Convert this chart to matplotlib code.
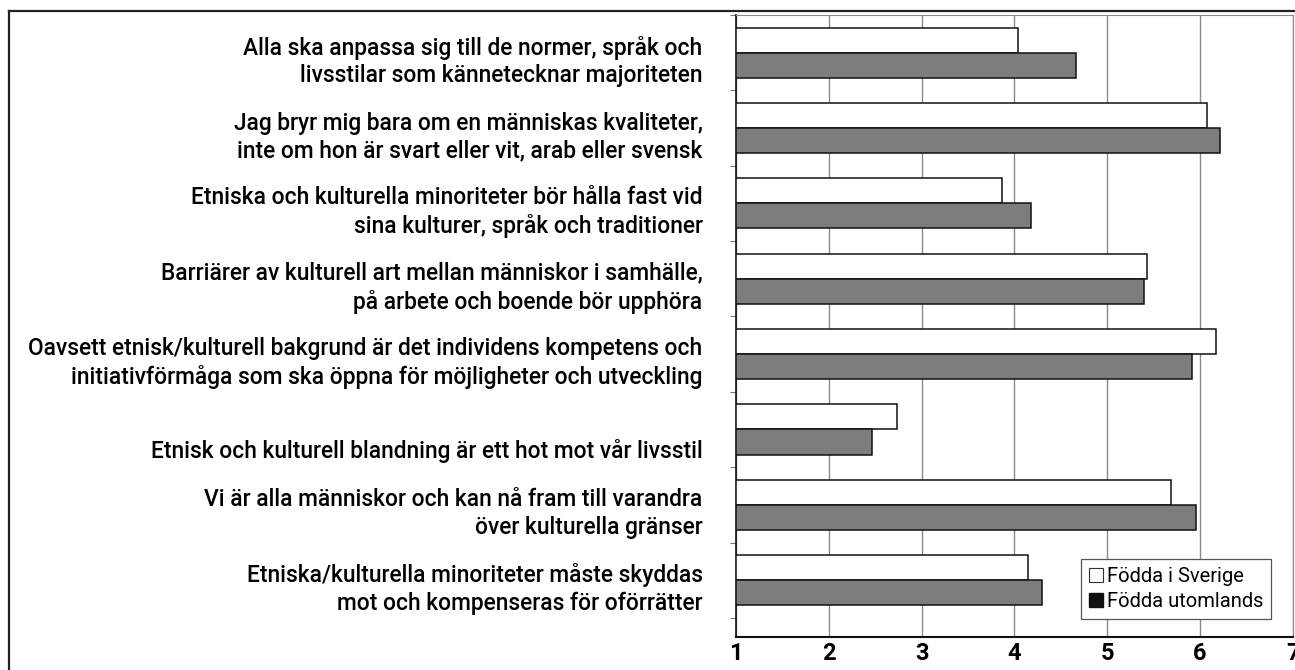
import numpy as np
import matplotlib.pyplot as plt
from matplotlib.patches import Patch
from matplotlib.lines import Line2D
from matplotlib.transforms import ScaledTranslation

plt.rcParams['font.family'] = ['Roboto', 'DejaVu Sans']

labels = [
    "Alla ska anpassa sig till de normer, språk och\nlivsstilar som kännetecknar majoriteten",
    "Jag bryr mig bara om en människas kvaliteter,\ninte om hon är svart eller vit, arab eller svensk",
    "Etniska och kulturella minoriteter bör hålla fast vid\nsina kulturer, språk och traditioner",
    "Barriärer av kulturell art mellan människor i samhälle,\npå arbete och boende bör upphöra",
    "Oavsett etnisk/kulturell bakgrund är det individens kompetens och\ninitiativförmåga som ska öppna för möjligheter och utveckling",
    "Etnisk och kulturell blandning är ett hot mot vår livsstil",
    "Vi är alla människor och kan nå fram till varandra\növer kulturella gränser",
    "Etniska/kulturella minoriteter måste skyddas\nmot och kompenseras för oförrätter",
]
sverige = [4.04, 6.08, 3.87, 5.43, 6.17, 2.74, 5.69, 4.15]
utomlands = [4.67, 6.22, 4.18, 5.40, 5.91, 2.47, 5.96, 4.30]
series_names = ["Födda i Sverige", "Födda utomlands"]
xticks = [1, 2, 3, 4, 5, 6, 7]

fig = plt.figure(figsize=(12.95, 6.7), dpi=100)
ax = fig.add_axes([0.5683, 0.0497, 0.4299, 0.9279])

y = np.arange(len(labels)) + 0.5
h = 0.333
dark = "#7d7d7d"
ax.barh(y - h / 2, np.array(sverige) - 1, height=h, left=1, color="white",
        edgecolor="#111111", linewidth=1.1, zorder=3)
ax.barh(y + h / 2, np.array(utomlands) - 1, height=h, left=1, color=dark,
        edgecolor="#111111", linewidth=1.1, zorder=3)

ax.set_xlim(1, 7)
ax.set_ylim(8.25, 0)
ax.set_xticks(xticks)
ax.set_xticklabels([str(t) for t in xticks], fontsize=17, fontweight="bold")
ax.tick_params(axis="x", length=0, pad=4)
ax.grid(axis="x", color="#8a8a8a", linewidth=1.0, zorder=0)

ax.set_yticks(y)
ax.set_yticklabels(labels, fontsize=16.4, fontweight="medium", linespacing=1.25)
ax.tick_params(axis="y", length=0, pad=24)
ax.set_yticks(np.arange(0, 9), minor=True)
ax.tick_params(axis="y", which="minor", length=4, color="#777777", width=0.8)

# labels sit a bit below the bar pair centre
for i, t in enumerate(ax.get_yticklabels()):
    dy = -4 if i != 5 else -19
    t.set_transform(t.get_transform() + ScaledTranslation(0, dy / 100, fig.dpi_scale_trans))

ax.spines["left"].set_color("#111111")
ax.spines["left"].set_linewidth(1.2)
ax.spines["bottom"].set_color("#111111")
ax.spines["bottom"].set_linewidth(1.5)
ax.spines["top"].set_color("#8a8a8a")
ax.spines["right"].set_color("#8a8a8a")

handles = [Patch(facecolor="white", edgecolor="#333333", linewidth=0.8),
           Patch(facecolor="#111111", edgecolor="#111111")]
leg = ax.legend(handles, series_names, loc="lower left", bbox_to_anchor=(0.619, 0.0285),
                fontsize=14.5, fancybox=False, framealpha=1, edgecolor="#555555",
                handlelength=0.7, handleheight=0.7, handletextpad=0.2,
                borderpad=0.4, labelspacing=0.3, borderaxespad=0)
leg.get_frame().set_linewidth(0.9)
leg.set_zorder(5)

# outer frame
fx = 9 / 1295
fy = 1 - 11 / 670
fig.add_artist(Line2D([fx, fx], [0, fy], color="#222222", linewidth=1.6))
fig.add_artist(Line2D([fx, 1], [fy, fy], color="#222222", linewidth=1.6))

fig.savefig("out.png", dpi=100)
